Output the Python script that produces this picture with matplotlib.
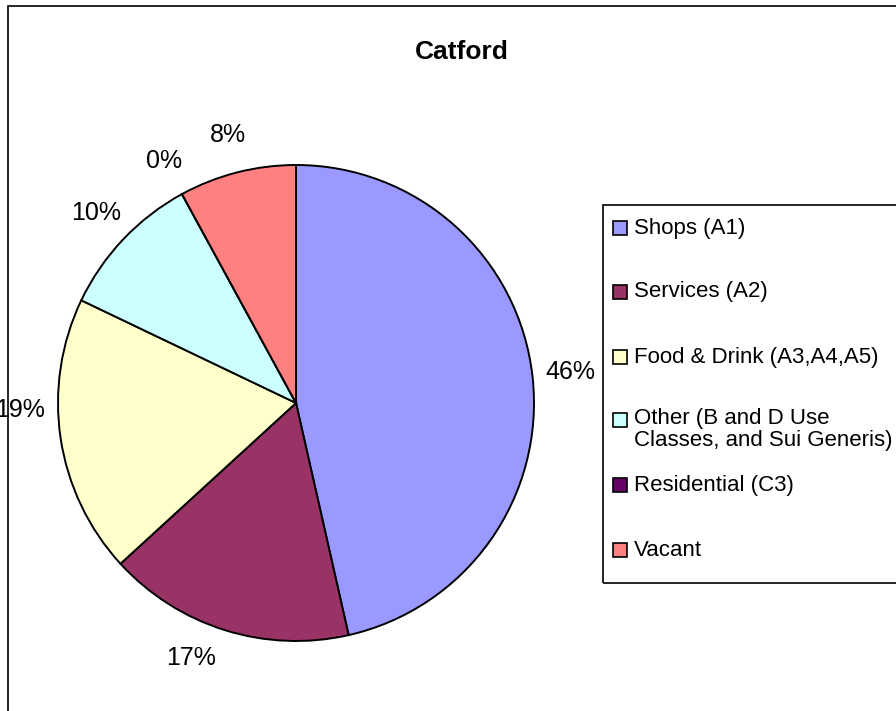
import matplotlib.pyplot as plt
import matplotlib.patches as mpatches
import numpy as np

plt.rcParams['font.family'] = ['Liberation Sans', 'DejaVu Sans']

title = "Catford"
categories = ["Shops (A1)", "Services (A2)", "Food & Drink (A3,A4,A5)",
              "Other (B and D Use\nClasses, and Sui Generis)",
              "Residential (C3)", "Vacant"]
values = [46.45, 16.75, 18.9, 9.95, 0.0, 7.95]  # percent of units
colors = ["#9999FF", "#993366", "#FFFFCC", "#CCFFFF", "#660066", "#FF8080"]

W, H = 896, 711
fig = plt.figure(figsize=(W / 100, H / 100), dpi=100)

def fx(px):
    return px / W

def fy(py):
    return 1 - py / H

# outer chart frame (runs off the right and bottom edges)
fig.patches.append(mpatches.Rectangle((fx(8), -0.1), 2, fy(6) + 0.1,
                                      transform=fig.transFigure, fill=False,
                                      edgecolor="black", linewidth=1.2))

fig.text(fx(462), fy(52), title, ha="center", va="center",
         fontsize=19, fontweight="bold")

# pie, centre (296, 403), radius ~238 px
r = 238
ax = fig.add_axes([fx(296 - r), fy(403 + r), 2 * r / W, 2 * r / H])
wedges, texts, autotexts = ax.pie(
    values, colors=colors, startangle=90, counterclock=False,
    autopct="%.0f%%", pctdistance=1.16,
    wedgeprops=dict(edgecolor="black", linewidth=1.4),
    textprops=dict(fontsize=18))
ax.set_xlim(-1, 1)
ax.set_ylim(-1, 1)
ax.set_aspect("auto")

def turn_label(t, deg):
    # rotate a label clockwise round the pie centre (Excel's placement)
    x, y = t.get_position()
    a = np.arctan2(y, x) - np.deg2rad(deg)
    d = np.hypot(x, y)
    t.set_position((d * np.cos(a), d * np.sin(a)))

turn_label(autotexts[1], 5)
turn_label(autotexts[2], 7)

# legend box
fig.patches.append(mpatches.Rectangle((fx(603), fy(583)), 1, fy(205) - fy(583),
                                      transform=fig.transFigure, fill=False,
                                      edgecolor="black", linewidth=1.2))
row_y = [228, 292, 357, 420, 485, 550]
s = 14
for lab, col, y in zip(categories, colors, row_y):
    fig.patches.append(mpatches.Rectangle((fx(613), fy(y + s / 2)), s / W, s / H,
                                          transform=fig.transFigure,
                                          facecolor=col, edgecolor="black",
                                          linewidth=1.2))
    if "\n" in lab:
        fig.text(fx(634), fy(y - 12), lab, ha="left", va="top",
                 fontsize=16, linespacing=1.05)
    else:
        fig.text(fx(634), fy(y), lab, ha="left", va="center", fontsize=16)

fig.savefig("out.png", dpi=100)
